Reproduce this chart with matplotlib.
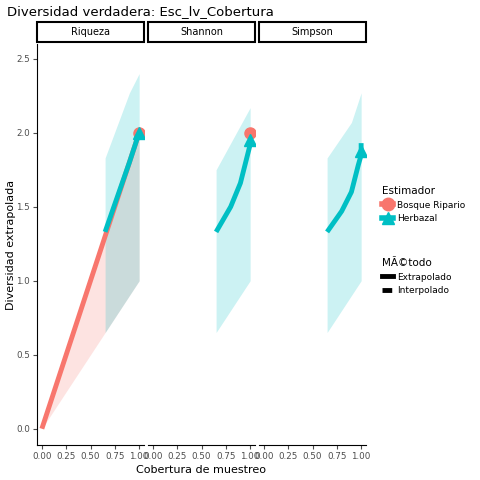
import matplotlib
matplotlib.use("Agg")
import matplotlib.pyplot as plt
from matplotlib.lines import Line2D
from matplotlib.patches import Rectangle

RED = "#F8766D"
TEAL = "#00BFC4"

facets = ["Riqueza", "Shannon", "Simpson"]

# Bosque Ripario (only Riqueza has a curve)
br_x = [0.0, 1.0]
br_y = [0.0, 2.0]
br_lo = [0.0, 1.0]
br_hi = [0.0, 2.0]
br_point = [2.0, 2.0, None]

# Herbazal curves per facet
hb_x = {
    "Riqueza": [0.65, 0.9, 1.0],
    "Shannon": [0.65, 0.8, 0.9, 1.0],
    "Simpson": [0.65, 0.8, 0.9, 0.97, 1.0, 1.0],
}
hb_y = {
    "Riqueza": [1.33, 1.8, 2.0],
    "Shannon": [1.33, 1.5, 1.66, 1.92],
    "Simpson": [1.33, 1.47, 1.6, 1.78, 1.85, 1.93],
}
hb_rx = {"Riqueza": [0.65, 0.9, 1.0], "Shannon": [0.65, 1.0], "Simpson": [0.65, 0.9, 1.0]}
hb_lo = {"Riqueza": [0.65, 0.9, 1.0], "Shannon": [0.65, 1.0], "Simpson": [0.65, 0.9, 1.0]}
hb_hi = {"Riqueza": [1.83, 2.27, 2.4], "Shannon": [1.75, 2.17], "Simpson": [1.83, 2.07, 2.27]}
hb_point = {"Riqueza": 2.0, "Shannon": 1.95, "Simpson": 1.88}

fig = plt.figure(figsize=(4.8, 4.8), dpi=100)
W = H = 480.0
lefts = [37, 148, 259]
pw = 107
top, bot = 44, 445

for i, f in enumerate(facets):
    ax = fig.add_axes([lefts[i] / W, 1 - bot / H, pw / W, (bot - top) / H])
    ax.set_xlim(-0.05, 1.05)
    ax.set_ylim(-0.11, 2.6)
    if f == "Riqueza":
        ax.fill_between(br_x, br_lo, br_hi, color=RED, alpha=0.2, lw=0)
    ax.fill_between(hb_rx[f], hb_lo[f], hb_hi[f], color=TEAL, alpha=0.2, lw=0)
    if f == "Riqueza":
        ax.plot(br_x, br_y, color=RED, lw=3.5, solid_capstyle="butt")
    ax.plot(hb_x[f], hb_y[f], color=TEAL, lw=3.5, solid_capstyle="butt")
    if br_point[i] is not None:
        ax.plot([1.0], [br_point[i]], "o", color=RED, ms=8)
    ax.plot([1.0], [hb_point[f]], "^", color=TEAL, ms=9)
    ax.set_xticks([0, 0.25, 0.5, 0.75, 1.0])
    ax.set_xticklabels(["0.00", "0.25", "0.50", "0.75", "1.00"])
    ax.tick_params(labelsize=6.3, colors="#4d4d4d", length=3, pad=2)
    for s in ["top", "right"]:
        ax.spines[s].set_visible(False)
    if i == 0:
        ax.set_yticks([0, 0.5, 1.0, 1.5, 2.0, 2.5])
        ax.set_yticklabels(["0.0", "0.5", "1.0", "1.5", "2.0", "2.5"])
    else:
        ax.set_yticks([])
        ax.spines["left"].set_visible(False)
    # strip
    fig.patches.append(Rectangle((lefts[i] / W, 1 - 42 / H), pw / W, 20 / H,
                                 transform=fig.transFigure, fc="white", ec="black", lw=1.5))
    fig.text((lefts[i] + pw / 2) / W, 1 - 32 / H, f, ha="center", va="center", fontsize=7)

fig.text(7 / W, 1 - 12 / H, "Diversidad verdadera: Esc_lv_Cobertura", fontsize=9.5, va="center")
fig.text(201 / W, 1 - 470 / H, "Cobertura de muestreo", ha="center", va="center", fontsize=8)
fig.text(11 / W, 1 - 245 / H, "Diversidad extrapolada", ha="center", va="center",
         rotation=90, fontsize=8)

h1 = [Line2D([], [], color=RED, lw=4, marker="o", ms=9),
      Line2D([], [], color=TEAL, lw=4, marker="^", ms=9)]
leg1 = fig.legend(h1, ["Bosque Ripario", "Herbazal"], title="Estimador",
                  loc="upper left", bbox_to_anchor=(374 / W, 1 - 178 / H), frameon=False,
                  fontsize=6.5, title_fontsize=7.5, handlelength=1.2, handletextpad=0.5)
leg1._legend_box.align = "left"
h2 = [Line2D([], [], color="black", lw=3.5), Line2D([], [], color="black", lw=3.5, ls=(0, (2, 2)))]
leg2 = fig.legend(h2, ["Extrapolado", "Interpolado"], title="MÃ©todo",
                  loc="upper left", bbox_to_anchor=(374 / W, 1 - 250 / H), frameon=False,
                  fontsize=6.5, title_fontsize=7.5, handlelength=1.2, handletextpad=0.5)
leg2._legend_box.align = "left"

fig.savefig("out.png", dpi=100)
